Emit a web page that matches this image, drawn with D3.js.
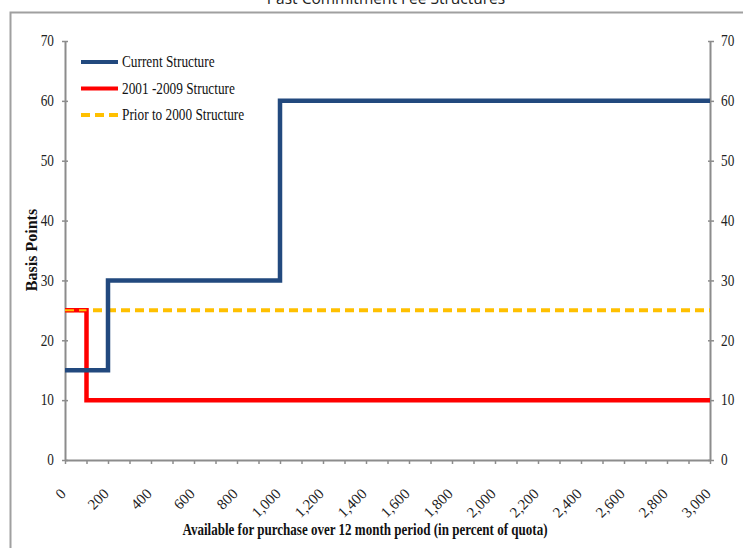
<!DOCTYPE html>
<html><head><meta charset="utf-8">
<script src="https://cdn.jsdelivr.net/npm/d3@7"></script>
<style>body{margin:0;background:#fff}svg{display:block}</style>
</head><body>
<svg id="c" width="743" height="548"></svg>
<script>
const title = "Past Commitment Fee Structures";
const seriesNames = ["Current Structure", "2001 -2009 Structure", "Prior to 2000 Structure"];
const currentX = [0, 200, 200, 1000, 1000, 3000];
const currentY = [15, 15, 30, 30, 60, 60];
const s2001X = [0, 100, 100, 3000];
const s2001Y = [25, 25, 10, 10];
const priorX = [0, 3000];
const priorY = [25, 25];
const yTicks = [0, 10, 20, 30, 40, 50, 60, 70];
const xTickLabels = [0,200,400,600,800,1000,1200,1400,1600,1800,2000,2200,2400,2600,2800,3000];
const xMinorTicks = d3.range(0, 3001, 100);

const svg = d3.select("#c");
const m = {l:65, r:710, t:41, b:460};
const x = d3.scaleLinear().domain([0,3000]).range([m.l, m.r]);
const y = d3.scaleLinear().domain([0,70]).range([m.b, m.t]);
const serif = "'Liberation Serif','Times New Roman',serif";
const axisColor = "#8c8c8c";
const squeeze = 0.83;
function narrow(sel, f){
  sel.each(function(){
    const w = this.getComputedTextLength();
    d3.select(this).attr("textLength", w*f).attr("lengthAdjust","spacingAndGlyphs");
  });
}

// frame
svg.append("path").attr("d","M10.5,548 L10.5,12.5 L743,12.5").attr("fill","none").attr("stroke","#a0a0a0").attr("stroke-width",2);
svg.append("text").attr("x",386).attr("y",4).attr("text-anchor","middle")
  .attr("font-family","'Open Sans','Noto Sans',sans-serif").attr("font-size",15.5).attr("fill","#222").text(title);

// axes
const yl = d3.axisLeft(y).tickValues(yTicks).tickSize(3).tickSizeOuter(0).tickFormat("");
const yr = d3.axisRight(y).tickValues(yTicks).tickSize(4).tickSizeOuter(0).tickFormat("");
const xa = d3.axisBottom(x).tickValues(xMinorTicks).tickSize(4).tickSizeOuter(0).tickFormat("");
function styleAxis(g){
  g.select(".domain").attr("stroke",axisColor).attr("stroke-width",2);
  g.selectAll(".tick line").attr("stroke",axisColor).attr("stroke-width",1.5);
}
const gyl = svg.append("g").attr("transform",`translate(${m.l},0)`).call(yl).call(styleAxis);
gyl.selectAll(".tick line").attr("x1",3);
const gyr = svg.append("g").attr("transform",`translate(${m.r},0)`).call(yr).call(styleAxis);
gyr.selectAll(".tick line").attr("x1",-2);
const gx = svg.append("g").attr("transform",`translate(0,${m.b})`).call(xa).call(styleAxis);

// y tick labels
svg.append("g").selectAll("text").data(yTicks).join("text")
  .attr("x", m.l-11).attr("y", d=>y(d)).attr("dy","0.33em").attr("text-anchor","end")
  .attr("font-family",serif).attr("font-size",16).attr("fill","#222").text(d=>d)
  .call(narrow, squeeze);
svg.append("g").selectAll("text").data(yTicks).join("text")
  .attr("x", m.r+11).attr("y", d=>y(d)).attr("dy","0.33em").attr("text-anchor","start")
  .attr("font-family",serif).attr("font-size",16).attr("fill","#222").text(d=>d)
  .call(narrow, squeeze);

const fmt = d3.format(",");
svg.append("g").selectAll("text").data(xTickLabels).join("text")
  .attr("transform",d=>`translate(${x(d)-2},${m.b+31}) rotate(-45)`)
  .attr("text-anchor","end").attr("font-family",serif).attr("font-size",15).attr("fill","#222")
  .attr("dy","0.35em").text(d=>fmt(d));

// axis titles
svg.append("text").attr("x",365).attr("y",535).attr("text-anchor","middle").attr("font-family",serif)
  .attr("font-weight","bold").attr("font-size",16).attr("fill","#111").text("Available for purchase over 12 month period (in percent of quota)")
  .attr("textLength",365).attr("lengthAdjust","spacingAndGlyphs");
svg.append("text").attr("transform","translate(37,250) rotate(-90)").attr("text-anchor","middle").attr("font-family",serif)
  .attr("font-weight","bold").attr("font-size",16).attr("fill","#111").text("Basis Points");

// lines
const line = d3.line().x(d=>x(d[0])).y(d=>y(d[1]));
const zip = (a,b)=>a.map((v,i)=>[v,b[i]]);
svg.append("path").datum(zip(priorX,priorY)).attr("d",line).attr("fill","none").attr("stroke","#ffc000").attr("stroke-width",4).attr("stroke-dasharray","9,5");
svg.append("path").datum(zip(s2001X,s2001Y)).attr("d",line).attr("fill","none").attr("stroke","#ff0000").attr("stroke-width",4.5);
svg.append("path").datum(zip(currentX,currentY)).attr("d",line).attr("fill","none").attr("stroke","#22497e").attr("stroke-width",4.5);
svg.append("path").datum(zip([0,100],[25,25])).attr("d",line).attr("fill","none").attr("stroke","#ffc000").attr("stroke-width",2).attr("stroke-dasharray","9,5");

// legend
const colors = ["#22497e","#ff0000","#ffc000"];
const dashes = [null,null,"9,5"];
const lg = svg.append("g");
seriesNames.forEach((n,i)=>{
  const yy = 62 + i*26.5;
  lg.append("line").attr("x1",81).attr("x2",118).attr("y1",yy).attr("y2",yy).attr("stroke",colors[i]).attr("stroke-width",4).attr("stroke-dasharray",dashes[i]);
  lg.append("text").attr("x",122).attr("y",yy).attr("dy","0.33em").attr("font-family",serif).attr("font-size",16).attr("fill","#111").text(n)
    .call(narrow, squeeze);
});
</script>
</body></html>
